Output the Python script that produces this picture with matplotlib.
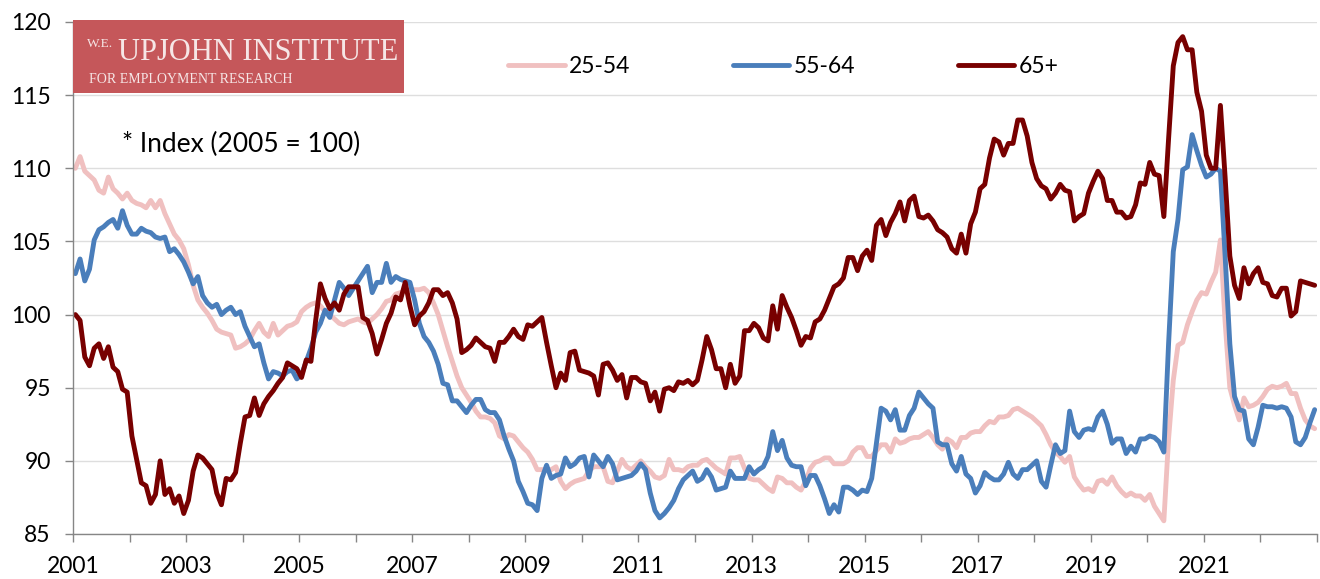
import numpy as np
import matplotlib.pyplot as plt
from matplotlib.patches import Rectangle

plt.rcParams['font.family'] = ['Lato', 'DejaVu Sans']

# monthly index values, Jan 2001 - Dec 2022 (2005 = 100)
start_year = 2001
series_names = ["25-54", "55-64", "65+"]

age_25_54 = [
    110.0, 110.8, 109.8, 109.5, 109.2, 108.5, 108.3, 109.4, 108.6, 108.3, 107.9, 108.3,  # 2001
    107.8, 107.6, 107.5, 107.3, 107.8, 107.3, 107.8, 106.9, 106.2, 105.5, 105.1, 104.5,  # 2002
    103.4, 102.0, 101.0, 100.5, 100.1, 99.6, 99.0, 98.8, 98.7, 98.6, 97.7, 97.8,  # 2003
    98.0, 98.3, 98.9, 99.4, 98.8, 98.5, 99.4, 98.6, 98.9, 99.2, 99.3, 99.5,  # 2004
    100.2, 100.5, 100.7, 100.8, 100.6, 100.2, 100.0, 99.7, 99.4, 99.3, 99.5, 99.6,  # 2005
    99.7, 99.5, 99.4, 99.7, 100.0, 100.4, 100.9, 101.0, 101.4, 101.5, 101.6, 101.7,  # 2006
    101.7, 101.7, 101.8, 101.5, 100.8, 100.0, 98.9, 97.8, 96.8, 95.8, 95.0, 94.5,  # 2007
    94.0, 93.4, 93.0, 93.0, 92.9, 92.6, 91.7, 91.5, 91.8, 91.7, 91.3, 90.9,  # 2008
    90.6, 90.1, 89.4, 89.4, 89.4, 89.4, 89.6, 88.6, 88.1, 88.4, 88.6, 88.7,  # 2009
    88.8, 89.3, 89.6, 89.6, 89.6, 88.6, 88.5, 89.3, 90.1, 89.6, 89.4, 89.7,  # 2010
    90.0, 89.6, 89.3, 88.9, 88.8, 89.0, 90.1, 89.4, 89.4, 89.3, 89.6, 89.7,  # 2011
    89.7, 90.0, 90.1, 89.8, 89.5, 89.3, 89.1, 90.2, 90.2, 90.3, 89.5, 88.8,  # 2012
    88.7, 88.7, 88.4, 88.1, 87.9, 88.9, 88.8, 88.5, 88.5, 88.2, 88.0, 88.6,  # 2013
    89.5, 89.9, 90.0, 90.2, 90.2, 89.8, 89.8, 89.8, 90.0, 90.6, 90.9, 90.9,  # 2014
    90.3, 90.3, 90.7, 91.1, 91.1, 90.6, 91.5, 91.2, 91.3, 91.5, 91.6, 91.6,  # 2015
    91.8, 92.0, 91.6, 91.1, 90.8, 91.5, 91.3, 90.9, 91.6, 91.6, 91.9, 92.0,  # 2016
    92.0, 92.4, 92.7, 92.6, 93.0, 93.0, 93.1, 93.5, 93.6, 93.4, 93.2, 93.0,  # 2017
    92.7, 92.4, 91.8, 91.1, 90.6, 90.3, 89.9, 90.3, 88.9, 88.4, 88.0, 88.1,  # 2018
    87.9, 88.6, 88.7, 88.4, 88.9, 88.3, 87.9, 87.6, 87.8, 87.6, 87.6, 87.3,  # 2019
    87.7, 86.9, 86.4, 85.9, 91.5, 95.5, 97.9, 98.1, 99.3, 100.2, 101.0, 101.5,  # 2020
    101.4, 102.2, 102.9, 105.1, 99.5, 95.0, 93.8, 92.8, 94.3, 93.7, 93.8, 94.0,  # 2021
    94.4, 94.9, 95.1, 95.0, 95.1, 95.3, 94.6, 94.6, 93.6, 92.8, 92.4, 92.2,  # 2022
]

age_55_64 = [
    102.8, 103.8, 102.3, 103.1, 105.1, 105.8, 106.0, 106.3, 106.5, 105.9, 107.1, 106.1,  # 2001
    105.5, 105.5, 105.9, 105.7, 105.6, 105.3, 105.2, 105.3, 104.3, 104.5, 104.1, 103.6,  # 2002
    102.9, 102.1, 102.6, 101.3, 100.8, 100.5, 100.7, 100.0, 100.3, 100.5, 100.0, 100.2,  # 2003
    99.2, 98.5, 97.8, 98.0, 96.7, 95.6, 96.1, 96.0, 95.8, 96.1, 96.2, 95.6,  # 2004
    95.9, 96.8, 97.7, 98.8, 99.4, 100.3, 99.8, 101.0, 102.2, 101.8, 101.3, 101.8,  # 2005
    102.3, 102.8, 103.3, 101.5, 102.2, 102.2, 103.5, 102.2, 102.6, 102.4, 102.3, 102.2,  # 2006
    101.0, 99.4, 98.5, 98.1, 97.5, 96.6, 95.3, 95.2, 94.1, 94.1, 93.7, 93.3,  # 2007
    93.8, 94.2, 94.2, 93.5, 93.3, 93.3, 92.8, 91.7, 90.8, 90.0, 88.6, 87.9,  # 2008
    87.1, 87.0, 86.6, 88.8, 89.7, 88.8, 89.0, 89.1, 90.2, 89.6, 89.8, 90.2,  # 2009
    90.3, 88.9, 90.4, 90.0, 89.6, 90.3, 89.8, 88.7, 88.8, 88.9, 89.0, 89.3,  # 2010
    89.8, 89.4, 87.8, 86.6, 86.1, 86.4, 86.8, 87.3, 88.1, 88.7, 89.0, 89.3,  # 2011
    88.6, 88.8, 89.4, 88.9, 88.0, 88.1, 88.2, 89.3, 88.8, 88.8, 88.8, 89.6,  # 2012
    89.1, 89.4, 89.6, 90.3, 92.0, 90.7, 91.4, 90.2, 89.7, 89.6, 89.6, 88.3,  # 2013
    89.0, 89.0, 88.3, 87.4, 86.4, 87.0, 86.5, 88.2, 88.2, 88.0, 87.7, 88.0,  # 2014
    87.9, 88.8, 91.2, 93.6, 93.4, 92.8, 93.5, 92.1, 92.1, 93.1, 93.6, 94.7,  # 2015
    94.3, 93.9, 93.6, 91.3, 91.1, 91.1, 89.8, 89.3, 90.3, 89.1, 88.8, 87.8,  # 2016
    88.3, 89.2, 88.9, 88.7, 88.7, 89.1, 89.9, 89.1, 88.8, 89.4, 89.4, 89.7,  # 2017
    90.0, 88.6, 88.2, 89.7, 91.1, 90.5, 90.7, 93.4, 92.0, 91.6, 92.1, 92.2,  # 2018
    92.1, 93.0, 93.4, 92.5, 91.2, 91.5, 91.5, 90.5, 91.0, 90.6, 91.5, 91.5,  # 2019
    91.7, 91.6, 91.3, 90.6, 98.0, 104.3, 106.5, 109.9, 110.1, 112.3, 111.2, 110.2,  # 2020
    109.4, 109.6, 110.0, 109.8, 104.0, 98.0, 94.4, 93.5, 93.4, 91.5, 91.1, 92.3,  # 2021
    93.8, 93.7, 93.7, 93.6, 93.7, 93.6, 93.0, 91.3, 91.1, 91.6, 92.6, 93.5,  # 2022
]

age_65_plus = [
    100.0, 99.6, 97.1, 96.5, 97.7, 98.0, 97.0, 97.8, 96.4, 96.1, 94.9, 94.7,  # 2001
    91.7, 90.1, 88.5, 88.3, 87.1, 87.7, 90.0, 87.7, 88.1, 87.1, 87.6, 86.4,  # 2002
    87.3, 89.3, 90.4, 90.2, 89.8, 89.4, 87.8, 87.0, 88.8, 88.7, 89.2, 91.2,  # 2003
    93.0, 93.1, 94.3, 93.1, 93.9, 94.4, 94.8, 95.3, 95.7, 96.7, 96.5, 96.3,  # 2004
    95.7, 96.9, 96.8, 99.6, 102.1, 101.1, 100.4, 100.8, 100.3, 101.4, 101.9, 101.9,  # 2005
    101.9, 99.8, 99.6, 98.7, 97.3, 98.3, 99.4, 100.1, 101.2, 101.0, 102.2, 100.6,  # 2006
    99.3, 99.9, 100.2, 100.8, 101.7, 101.7, 101.3, 101.5, 100.8, 99.7, 97.4, 97.6,  # 2007
    97.9, 98.4, 98.1, 97.8, 97.7, 96.8, 98.1, 98.1, 98.5, 99.0, 98.5, 98.3,  # 2008
    99.3, 99.2, 99.5, 99.8, 98.1, 96.5, 95.0, 96.0, 95.5, 97.4, 97.5, 96.2,  # 2009
    96.1, 96.0, 95.8, 94.5, 96.6, 96.7, 96.2, 95.5, 95.9, 94.3, 95.7, 95.7,  # 2010
    95.4, 95.3, 94.1, 94.7, 93.4, 94.9, 95.0, 94.8, 95.4, 95.3, 95.5, 95.2,  # 2011
    95.5, 96.9, 98.5, 97.6, 96.3, 96.3, 95.0, 96.6, 95.3, 95.8, 98.9, 98.9,  # 2012
    99.4, 99.1, 98.4, 98.2, 100.6, 99.0, 101.3, 100.5, 99.8, 98.9, 97.9, 98.5,  # 2013
    98.4, 99.5, 99.7, 100.3, 101.1, 101.9, 102.1, 102.5, 103.9, 103.9, 103.0, 104.0,  # 2014
    104.4, 103.7, 106.1, 106.5, 105.4, 106.3, 106.9, 107.7, 106.4, 107.8, 108.1, 106.7,  # 2015
    106.6, 106.8, 106.4, 105.8, 105.6, 105.3, 104.5, 104.2, 105.5, 104.2, 106.2, 107.0,  # 2016
    108.6, 108.9, 110.7, 112.0, 111.8, 110.9, 111.7, 111.7, 113.3, 113.3, 112.2, 110.4,  # 2017
    109.3, 108.8, 108.6, 107.9, 108.3, 108.9, 108.5, 108.4, 106.4, 106.7, 106.9, 108.3,  # 2018
    109.1, 109.8, 109.3, 107.8, 107.8, 107.0, 107.0, 106.6, 106.7, 107.5, 109.0, 108.9,  # 2019
    110.4, 109.6, 109.5, 106.7, 112.0, 117.0, 118.6, 119.0, 118.1, 118.1, 115.2, 113.9,  # 2020
    110.9, 110.0, 110.0, 114.3, 109.4, 104.0, 102.0, 101.1, 103.2, 102.1, 102.8, 103.2,  # 2021
    102.2, 102.1, 101.3, 101.2, 101.8, 101.8, 99.9, 100.2, 102.3, 102.2, 102.1, 102.0,  # 2022
]

colors = ["#F0C0C0", "#4A7EBB", "#780000"]

years = list(range(2001, 2024))
year_labels = [str(y) if (y % 2 == 1 and y < 2023) else "" for y in years]

n = len(age_25_54)
xs = start_year + (np.arange(n) + 0.5) / 12.0

fig = plt.figure(figsize=(13.2, 5.79), dpi=100)
ax = fig.add_axes([73 / 1320, 45 / 579, 1244 / 1320, 512 / 579])

for vals, name, c in zip([age_25_54, age_55_64, age_65_plus], series_names, colors):
    ax.plot(xs, vals, color=c, lw=3.5, label=name,
            solid_capstyle='round', solid_joinstyle='round')

ax.set_xlim(2001, 2023)
ax.set_ylim(85, 120)
ax.set_yticks(np.arange(85, 121, 5))
ax.set_xticks(years)
ax.set_xticklabels(year_labels)

ax.grid(axis='y', color='#DEDEDE', lw=1)
ax.set_axisbelow(True)
for s in ['top', 'right']:
    ax.spines[s].set_visible(False)
for s in ['left', 'bottom']:
    ax.spines[s].set_color('#868686')
    ax.spines[s].set_linewidth(1)
ax.tick_params(axis='both', colors='#868686', labelcolor='black',
               labelsize=16.5, length=6, width=1, direction='out')
ax.tick_params(axis='y', pad=10)
ax.tick_params(axis='x', pad=10)

leg = ax.legend(loc='center', bbox_to_anchor=(0.571, 0.914), ncol=3,
                frameon=False, fontsize=16.5, handlelength=2.45,
                handletextpad=0.18, columnspacing=4.5)

ax.text(0.039, 0.760, "* Index (2005 = 100)", transform=ax.transAxes,
        fontsize=19, va='center', ha='left')

# logo box
fig.patches.append(Rectangle((73 / 1320, 1 - 93 / 579), 331 / 1320, 73 / 579,
                             transform=fig.transFigure, facecolor='#C5575A',
                             edgecolor='none', zorder=5))
fig.text(87 / 1320, 1 - 47 / 579, "W.E.", family='Liberation Serif',
         fontsize=9.5, color='#F6E6E6', zorder=6)
fig.text(118 / 1320, 1 - 60 / 579, "UPJOHN INSTITUTE", family='Liberation Serif',
         fontsize=22, color='#F6E6E6', zorder=6)
fig.text(89 / 1320, 1 - 83 / 579, "FOR EMPLOYMENT RESEARCH", family='Liberation Serif',
         fontsize=10, color='#F6E6E6', zorder=6)

plt.savefig('out.png', dpi=100)
